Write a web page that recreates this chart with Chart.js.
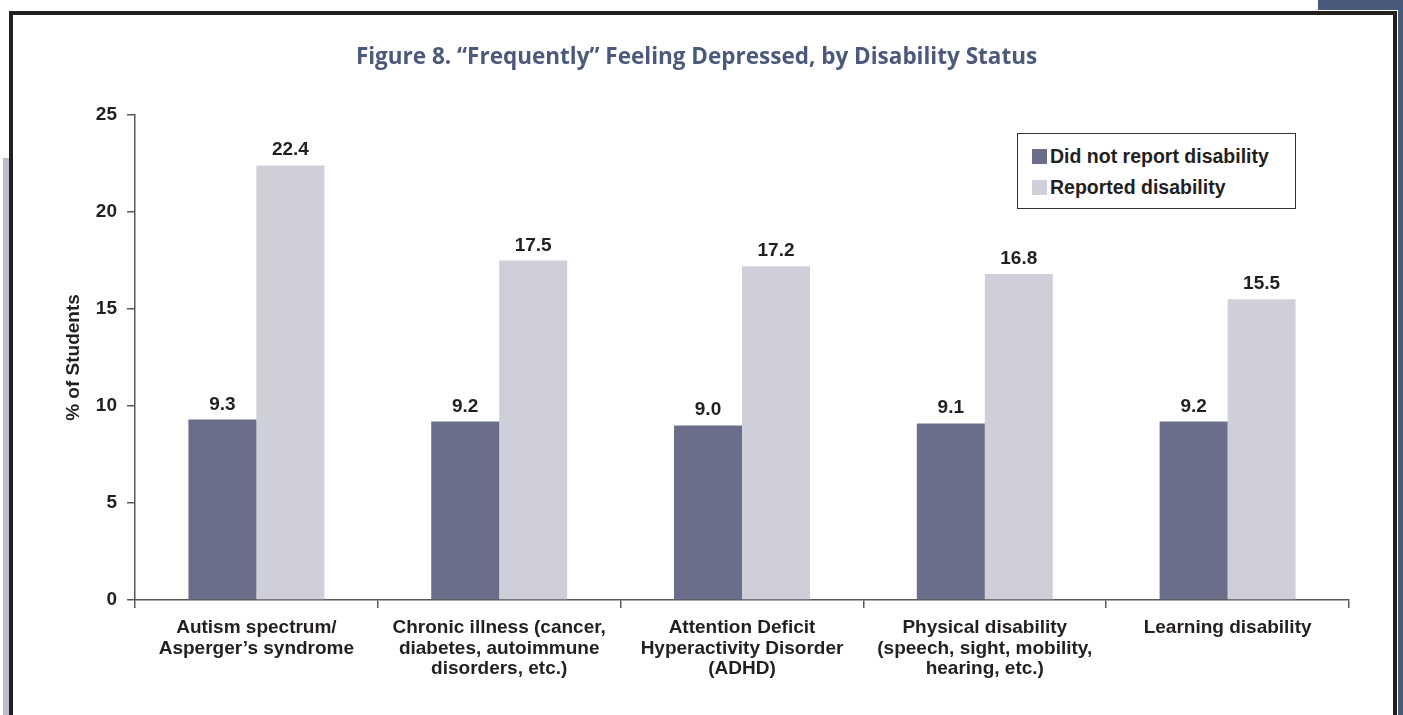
<!DOCTYPE html>
<html>
<head>
<meta charset="utf-8">
<script src="https://cdn.jsdelivr.net/npm/chart.js@4"></script>
<style>
  html, body { margin: 0; padding: 0; background: #fff; }
  body { width: 1403px; height: 715px; position: relative; overflow: hidden; }
  .deco { position: absolute; }
  #strip { left: 3px; top: 158px; width: 6px; height: 557px; background: #b9bacb; }
  #blueTop { left: 1318px; top: 0; width: 85px; height: 10px; background: #4a5a7b; }
  #blueSide { left: 1398px; top: 0; width: 5px; height: 715px; background: #4a5a7b; }
  #frame { left: 9px; top: 11px; width: 1380px; height: 720px; border: 4px solid #231f20; border-bottom: none; background: #fff; }
  #myChart { position: absolute; left: 0; top: 0; }
  #legend {
    position: absolute; left: 1017px; top: 133px; width: 277px; height: 74px;
    border: 1px solid #333; background: #fff;
    font: bold 19.5px "Liberation Sans", Arial, sans-serif; color: #231f20;
  }
  #legend .item { position: absolute; left: 14px; height: 22px; line-height: 22px; white-space: nowrap; }
  #legend .sw { display: inline-block; width: 15px; height: 15px; vertical-align: -1px; margin-right: 3px; }
</style>
</head>
<body>
<div class="deco" id="strip"></div>
<div class="deco" id="blueTop"></div>
<div class="deco" id="blueSide"></div>
<div class="deco" id="frame"></div>
<canvas id="myChart" width="1403" height="715"></canvas>
<div id="legend"></div>
<script>
const categories = [
  ["Autism spectrum/", "Asperger’s syndrome"],
  ["Chronic illness (cancer,", "diabetes, autoimmune", "disorders, etc.)"],
  ["Attention Deficit", "Hyperactivity Disorder", "(ADHD)"],
  ["Physical disability", "(speech, sight, mobility,", "hearing, etc.)"],
  ["Learning disability"],
];
const seriesNames = ["Did not report disability", "Reported disability"];
const notReported = [9.3, 9.2, 9.0, 9.1, 9.2];
const reported = [22.4, 17.5, 17.2, 16.8, 15.5];
const yTicks = [0, 5, 10, 15, 20, 25];
const colors = ["#6b6e8b", "#cfcfda"];

const textColor = "#231f20";
const axisColor = "#58585a";
const bold19 = { family: "'Liberation Sans', Arial, sans-serif", size: 19, weight: "bold" };

// value labels above each bar
const valueLabels = {
  id: "valueLabels",
  afterDatasetsDraw(chart) {
    const ctx = chart.ctx;
    ctx.save();
    ctx.font = "bold 19px 'Liberation Sans', Arial, sans-serif";
    ctx.fillStyle = textColor;
    ctx.textAlign = "center";
    ctx.textBaseline = "alphabetic";
    chart.data.datasets.forEach((ds, i) => {
      chart.getDatasetMeta(i).data.forEach((bar, j) => {
        ctx.fillText(ds.data[j].toFixed(1), bar.x, bar.y - 10);
      });
    });
    ctx.restore();
  },
};

const ctx = document.getElementById("myChart").getContext("2d");
const chart = new Chart(ctx, {
  type: "bar",
  data: {
    labels: categories,
    datasets: [
      { label: seriesNames[0], data: notReported, backgroundColor: colors[0] },
      { label: seriesNames[1], data: reported, backgroundColor: colors[1] },
    ],
  },
  options: {
    responsive: false,
    animation: false,
    layout: { padding: { left: 44, right: 54, top: 0, bottom: 0 } },
    datasets: { bar: { categoryPercentage: 0.56, barPercentage: 1.0 } },
    plugins: {
      legend: { display: false },
      tooltip: { enabled: false },
      title: {
        display: true,
        text: "Figure 8. “Frequently” Feeling Depressed, by Disability Status",
        color: "#4b5a7c",
        font: { family: "'Open Sans', sans-serif", size: 22.5, weight: "700", lineHeight: 1.2 },
        padding: { top: 44, bottom: 44 },
      },
    },
    scales: {
      x: {
        offset: true,
        afterFit: (scale) => { scale.height = 115; },
        grid: { offset: true, drawOnChartArea: false, tickLength: 8, color: axisColor, lineWidth: 1.5 },
        border: { color: axisColor, width: 1.5 },
        ticks: { color: textColor, font: { ...bold19, lineHeight: 1.1 }, padding: 9, maxRotation: 0, autoSkip: false },
      },
      y: {
        min: 0,
        max: 25,
        afterFit: (scale) => { scale.width = 91; },
        afterBuildTicks: (scale) => { scale.ticks = yTicks.map((v) => ({ value: v })); },
        grid: { drawOnChartArea: false, tickLength: 8, color: axisColor, lineWidth: 1.5 },
        border: { color: axisColor, width: 1.5 },
        ticks: { color: textColor, font: bold19, padding: 10 },
        title: {
          display: true,
          text: "% of Students",
          color: textColor,
          font: bold19,
          padding: { top: 18, bottom: 0 },
        },
      },
    },
  },
  plugins: [valueLabels],
});

// legend box, built from the dataset labels
const legendEl = document.getElementById("legend");
chart.data.datasets.forEach((ds, i) => {
  const item = document.createElement("div");
  item.className = "item";
  item.style.top = (11 + i * 31) + "px";
  item.innerHTML = `<span class="sw" style="background:${ds.backgroundColor}"></span>${ds.label}`;
  legendEl.appendChild(item);
});
</script>
</body>
</html>
